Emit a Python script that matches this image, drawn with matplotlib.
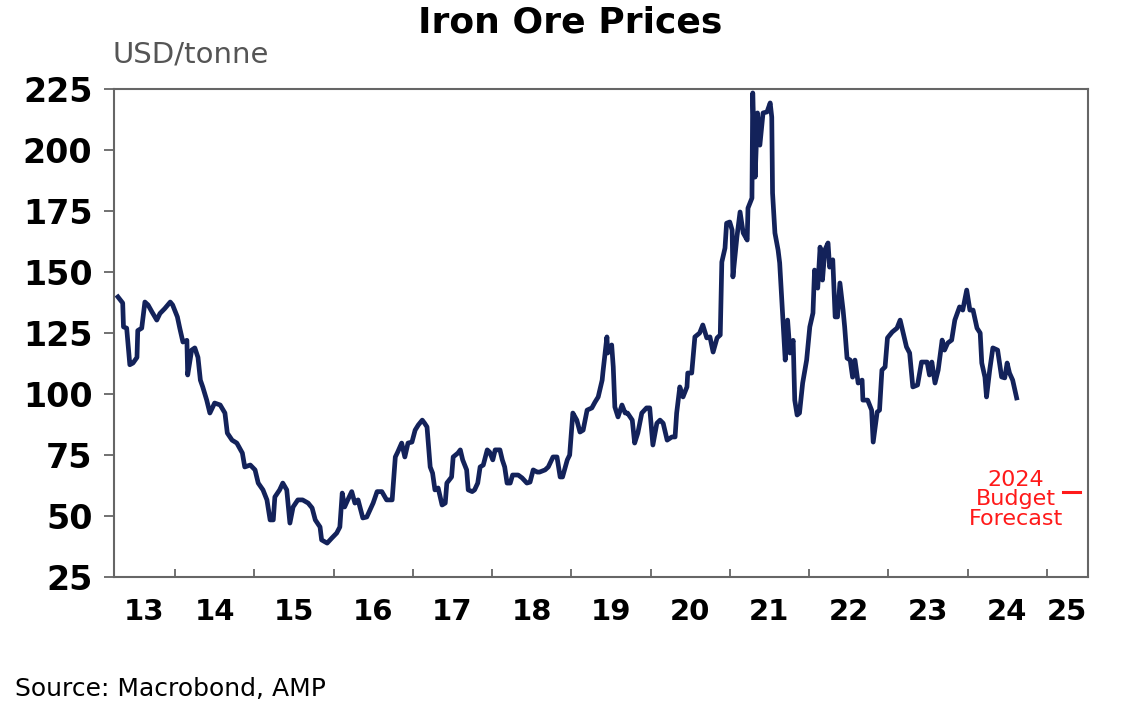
import matplotlib.pyplot as plt
import numpy as np

plt.rcParams['font.family'] = ['DejaVu Sans']

years = [
    2013.28, 2013.34, 2013.35, 2013.39, 2013.43, 2013.47, 2013.52, 2013.53,
    2013.58, 2013.62, 2013.66, 2013.71, 2013.77, 2013.81, 2013.87, 2013.94,
    2013.97, 2014.03, 2014.06, 2014.10, 2014.15, 2014.16, 2014.21, 2014.25,
    2014.29, 2014.32, 2014.35, 2014.40, 2014.44, 2014.50, 2014.57, 2014.63,
    2014.66, 2014.72, 2014.78, 2014.85, 2014.88, 2014.95, 2015.01, 2015.05,
    2015.11, 2015.16, 2015.20, 2015.24, 2015.26, 2015.32, 2015.36, 2015.41,
    2015.45, 2015.49, 2015.55, 2015.61, 2015.68, 2015.73, 2015.77, 2015.83,
    2015.85, 2015.92, 2015.98, 2016.04, 2016.08, 2016.11, 2016.14, 2016.18,
    2016.23, 2016.27, 2016.31, 2016.37, 2016.42, 2016.46, 2016.50, 2016.55,
    2016.61, 2016.67, 2016.74, 2016.78, 2016.81, 2016.86, 2016.90, 2016.94,
    2016.99, 2017.03, 2017.07, 2017.12, 2017.15, 2017.18, 2017.22, 2017.25,
    2017.28, 2017.32, 2017.37, 2017.41, 2017.43, 2017.49, 2017.51, 2017.57,
    2017.60, 2017.63, 2017.68, 2017.70, 2017.75, 2017.78, 2017.82, 2017.85,
    2017.89, 2017.94, 2017.97, 2018.01, 2018.04, 2018.10, 2018.13, 2018.16,
    2018.19, 2018.23, 2018.26, 2018.33, 2018.38, 2018.44, 2018.48, 2018.52,
    2018.57, 2018.60, 2018.67, 2018.71, 2018.77, 2018.82, 2018.86, 2018.89,
    2018.95, 2018.98, 2019.02, 2019.07, 2019.11, 2019.15, 2019.20, 2019.26,
    2019.30, 2019.34, 2019.39, 2019.40, 2019.45, 2019.46, 2019.51, 2019.53,
    2019.55, 2019.59, 2019.64, 2019.68, 2019.71, 2019.77, 2019.80, 2019.84,
    2019.89, 2019.95, 2019.99, 2020.03, 2020.08, 2020.12, 2020.16, 2020.21,
    2020.27, 2020.31, 2020.33, 2020.37, 2020.41, 2020.46, 2020.47, 2020.52,
    2020.56, 2020.62, 2020.66, 2020.71, 2020.75, 2020.79, 2020.84, 2020.88,
    2020.90, 2020.94, 2020.96, 2021.00, 2021.03, 2021.04, 2021.09, 2021.13,
    2021.17, 2021.22, 2021.23, 2021.28, 2021.29, 2021.32, 2021.35, 2021.38,
    2021.42, 2021.47, 2021.51, 2021.53, 2021.54, 2021.57, 2021.61, 2021.63,
    2021.67, 2021.70, 2021.73, 2021.76, 2021.80, 2021.82, 2021.85, 2021.88,
    2021.92, 2021.97, 2022.01, 2022.05, 2022.07, 2022.11, 2022.14, 2022.17,
    2022.20, 2022.24, 2022.26, 2022.30, 2022.33, 2022.36, 2022.39, 2022.43,
    2022.45, 2022.48, 2022.52, 2022.55, 2022.58, 2022.62, 2022.67, 2022.68,
    2022.74, 2022.79, 2022.81, 2022.86, 2022.89, 2022.92, 2022.96, 2022.99,
    2023.05, 2023.11, 2023.15, 2023.18, 2023.23, 2023.27, 2023.31, 2023.37,
    2023.42, 2023.49, 2023.52, 2023.55, 2023.59, 2023.63, 2023.68, 2023.71,
    2023.75, 2023.80, 2023.84, 2023.90, 2023.94, 2023.99, 2024.03, 2024.07,
    2024.12, 2024.16, 2024.18, 2024.22, 2024.24, 2024.28, 2024.32, 2024.38,
    2024.43, 2024.47, 2024.50, 2024.53, 2024.57, 2024.62,
]

prices = [
    139.8, 137.3, 127.5, 127.0, 112.0, 112.7, 115.0, 126.0,
    127.0, 137.7, 136.5, 133.6, 130.3, 133.0, 135.0, 137.7,
    136.5, 131.6, 127.0, 121.3, 122.0, 107.8, 118.0, 118.9,
    115.0, 105.7, 102.9, 97.5, 92.2, 96.3, 95.5, 92.2,
    84.0, 81.1, 79.9, 75.8, 70.1, 70.9, 68.9, 63.5,
    60.7, 56.6, 48.4, 48.4, 57.8, 60.7, 63.5, 60.7,
    47.1, 53.7, 56.6, 56.6, 55.3, 53.3, 48.4, 45.5,
    40.2, 38.9, 41.0, 43.0, 45.5, 59.4, 53.7, 56.6,
    60.0, 55.3, 56.6, 49.2, 49.6, 52.5, 55.3, 60.0,
    60.0, 56.6, 56.6, 74.2, 76.2, 79.9, 74.2, 79.9,
    80.3, 85.2, 87.3, 89.3, 88.0, 86.5, 70.1, 67.6,
    60.7, 61.5, 54.5, 55.3, 63.5, 66.0, 74.2, 75.8,
    77.1, 73.0, 68.9, 60.7, 60.0, 60.7, 63.5, 70.1,
    70.9, 77.1, 76.2, 73.0, 77.1, 77.1, 73.0, 70.1,
    63.5, 63.5, 66.8, 66.8, 65.6, 63.5, 63.9, 68.9,
    68.0, 68.0, 68.9, 70.1, 74.2, 74.2, 66.0, 66.0,
    73.0, 75.0, 92.2, 89.3, 84.4, 85.2, 93.4, 94.3,
    96.7, 98.8, 105.7, 109.0, 123.4, 116.8, 120.1, 111.1,
    94.7, 90.6, 95.5, 92.2, 92.2, 89.3, 79.9, 84.0,
    92.2, 94.3, 94.3, 79.1, 88.0, 89.3, 88.0, 81.1,
    82.4, 82.4, 92.2, 102.9, 98.8, 102.9, 108.6, 108.6,
    123.4, 125.0, 128.3, 123.0, 123.4, 117.2, 123.0, 124.2,
    154.1, 159.8, 170.0, 170.5, 167.2, 148.0, 164.3, 174.6,
    166.0, 163.1, 176.2, 180.3, 223.4, 188.9, 215.2, 202.0,
    215.2, 215.6, 219.3, 213.5, 182.4, 166.0, 159.0, 153.7,
    131.1, 113.9, 130.3, 116.8, 122.0, 97.5, 91.4, 92.2,
    104.5, 113.9, 127.5, 133.2, 150.8, 143.4, 160.2, 146.7,
    159.0, 161.9, 152.0, 155.0, 131.6, 131.6, 145.5, 134.4,
    127.5, 114.7, 113.9, 106.9, 113.9, 104.5, 105.7, 97.5,
    97.5, 93.4, 80.3, 92.6, 93.4, 109.8, 111.1, 123.0,
    125.4, 127.0, 130.3, 126.2, 119.3, 116.8, 102.9, 103.7,
    113.1, 113.1, 107.8, 113.1, 104.5, 109.8, 122.1, 118.0,
    120.9, 122.1, 130.3, 135.7, 134.4, 142.6, 134.4, 134.4,
    127.0, 125.0, 112.7, 106.9, 98.8, 109.8, 118.9, 118.0,
    107.0, 106.6, 112.7, 108.6, 105.7, 98.4,
]

forecast_years = [2025.20, 2025.42]
forecast_prices = [60, 60]

year_ticks = list(range(2014, 2026))
label_pos = [2013.61] + [y + 0.5 for y in range(2014, 2025)] + [2025.26]
label_text = ['13', '14', '15', '16', '17', '18', '19', '20', '21', '22', '23', '24', '25']
y_ticks = [25, 50, 75, 100, 125, 150, 175, 200, 225]

fig = plt.figure(figsize=(11.23, 7.15), dpi=100)
ax = fig.add_axes([0.1015, 0.193, 0.8673, 0.6825])

ax.plot(years, prices, color='#13225a', linewidth=3.4, solid_joinstyle='round')
ax.plot(forecast_years, forecast_prices, color='#ff1a1a', linewidth=2.2)

ax.set_xlim(2013.23, 2025.52)
ax.set_ylim(25, 225)

ax.set_xticks(year_ticks)
ax.set_xticklabels([])
ax.set_xticks(label_pos, minor=True)
ax.set_xticklabels(label_text, minor=True)
ax.tick_params(axis='x', which='major', direction='in', length=6, width=1.3, color='#666666')
ax.tick_params(axis='x', which='minor', length=0, pad=15, labelsize=21)

ax.set_yticks(y_ticks)
ax.tick_params(axis='y', direction='out', length=7.5, width=1.3, color='#666666',
               pad=8, labelsize=24)

for lbl in ax.get_xticklabels(minor=True) + ax.get_yticklabels():
    lbl.set_fontweight('bold')

for sp in ax.spines.values():
    sp.set_color('#666666')
    sp.set_linewidth(1.5)

ax.text(2024.61, 56.8, '2024\nBudget\nForecast', color='#ff1a1a', fontsize=16,
        ha='center', va='center', linespacing=0.95)

fig.text(0.508, 0.968, 'Iron Ore Prices', fontsize=26, fontweight='bold',
         ha='center', va='center')
fig.text(0.1, 0.912, 'USD/tonne', fontsize=21, color='#555555', ha='left', va='baseline')
fig.text(0.013, 0.036, 'Source: Macrobond, AMP', fontsize=18, ha='left', va='center')

fig.savefig('out.png', dpi=100)
